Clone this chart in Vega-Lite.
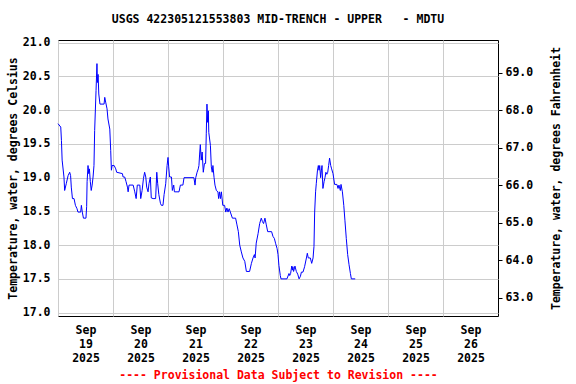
{
  "$schema": "https://vega.github.io/schema/vega-lite/v6.json",
  "width": 440,
  "height": 276,
  "autosize": {"type": "none"},
  "padding": {"left": 58, "top": 40, "right": 78, "bottom": 68},
  "title": {"text": "USGS 422305121553803 MID-TRENCH - UPPER\u00a0\u00a0\u00a0- MDTU", "font": "DejaVu Sans Mono", "fontWeight": "bold", "fontSize": 11.5, "color": "black", "offset": 11, "anchor": "middle"},
  "data": {"values": [
    {"t": "2025-09-19T00:00", "c": 19.80}, {"t": "2025-09-19T01:12", "c": 19.75}, {"t": "2025-09-19T01:30", "c": 19.55}, {"t": "2025-09-19T01:48", "c": 19.26},
    {"t": "2025-09-19T02:36", "c": 19.01}, {"t": "2025-09-19T02:54", "c": 18.81}, {"t": "2025-09-19T03:36", "c": 18.91}, {"t": "2025-09-19T04:24", "c": 19.03},
    {"t": "2025-09-19T05:06", "c": 19.08}, {"t": "2025-09-19T05:30", "c": 19.03}, {"t": "2025-09-19T05:48", "c": 18.86}, {"t": "2025-09-19T06:18", "c": 18.69},
    {"t": "2025-09-19T07:00", "c": 18.69}, {"t": "2025-09-19T07:36", "c": 18.59}, {"t": "2025-09-19T08:18", "c": 18.54}, {"t": "2025-09-19T08:42", "c": 18.49},
    {"t": "2025-09-19T09:54", "c": 18.49}, {"t": "2025-09-19T10:12", "c": 18.59}, {"t": "2025-09-19T10:36", "c": 18.49}, {"t": "2025-09-19T11:06", "c": 18.40},
    {"t": "2025-09-19T12:12", "c": 18.40}, {"t": "2025-09-19T12:30", "c": 18.57}, {"t": "2025-09-19T12:42", "c": 18.94}, {"t": "2025-09-19T13:06", "c": 19.18},
    {"t": "2025-09-19T13:24", "c": 19.06}, {"t": "2025-09-19T13:42", "c": 19.13}, {"t": "2025-09-19T14:06", "c": 18.94}, {"t": "2025-09-19T14:30", "c": 18.81},
    {"t": "2025-09-19T14:54", "c": 18.89}, {"t": "2025-09-19T15:18", "c": 19.01}, {"t": "2025-09-19T15:42", "c": 19.18}, {"t": "2025-09-19T16:00", "c": 19.70},
    {"t": "2025-09-19T16:36", "c": 20.29}, {"t": "2025-09-19T17:00", "c": 20.69}, {"t": "2025-09-19T17:12", "c": 20.41}, {"t": "2025-09-19T17:30", "c": 20.53},
    {"t": "2025-09-19T17:48", "c": 20.24}, {"t": "2025-09-19T18:18", "c": 20.09}, {"t": "2025-09-19T20:06", "c": 20.09}, {"t": "2025-09-19T20:24", "c": 20.19},
    {"t": "2025-09-19T20:48", "c": 20.12}, {"t": "2025-09-19T21:24", "c": 20.02}, {"t": "2025-09-19T21:48", "c": 19.87}, {"t": "2025-09-19T22:36", "c": 19.72},
    {"t": "2025-09-19T23:00", "c": 19.40}, {"t": "2025-09-19T23:18", "c": 19.11}, {"t": "2025-09-19T23:36", "c": 19.18}, {"t": "2025-09-20T00:30", "c": 19.18},
    {"t": "2025-09-20T01:12", "c": 19.13}, {"t": "2025-09-20T01:36", "c": 19.08}, {"t": "2025-09-20T04:06", "c": 19.06}, {"t": "2025-09-20T04:24", "c": 19.01},
    {"t": "2025-09-20T05:06", "c": 19.01}, {"t": "2025-09-20T05:42", "c": 18.94}, {"t": "2025-09-20T06:18", "c": 18.86}, {"t": "2025-09-20T06:36", "c": 18.79},
    {"t": "2025-09-20T07:00", "c": 18.89}, {"t": "2025-09-20T08:48", "c": 18.89}, {"t": "2025-09-20T09:30", "c": 18.79}, {"t": "2025-09-20T10:06", "c": 18.69},
    {"t": "2025-09-20T10:36", "c": 18.89}, {"t": "2025-09-20T11:42", "c": 18.89}, {"t": "2025-09-20T12:06", "c": 18.69}, {"t": "2025-09-20T12:42", "c": 18.81},
    {"t": "2025-09-20T13:18", "c": 18.99}, {"t": "2025-09-20T13:48", "c": 19.08}, {"t": "2025-09-20T14:18", "c": 19.01}, {"t": "2025-09-20T14:42", "c": 18.86},
    {"t": "2025-09-20T15:18", "c": 18.79}, {"t": "2025-09-20T15:42", "c": 18.91}, {"t": "2025-09-20T16:18", "c": 19.01}, {"t": "2025-09-20T16:42", "c": 18.70},
    {"t": "2025-09-20T17:30", "c": 18.69}, {"t": "2025-09-20T18:36", "c": 18.69}, {"t": "2025-09-20T19:06", "c": 19.08}, {"t": "2025-09-20T19:30", "c": 18.91},
    {"t": "2025-09-20T20:00", "c": 18.75}, {"t": "2025-09-20T20:42", "c": 18.62}, {"t": "2025-09-20T21:06", "c": 18.59}, {"t": "2025-09-20T21:48", "c": 18.59},
    {"t": "2025-09-20T22:18", "c": 18.75}, {"t": "2025-09-20T23:00", "c": 18.91}, {"t": "2025-09-20T23:36", "c": 19.18}, {"t": "2025-09-21T00:00", "c": 19.30},
    {"t": "2025-09-21T00:18", "c": 19.16}, {"t": "2025-09-21T00:42", "c": 19.01}, {"t": "2025-09-21T01:30", "c": 19.01}, {"t": "2025-09-21T01:54", "c": 18.81},
    {"t": "2025-09-21T02:30", "c": 18.89}, {"t": "2025-09-21T02:48", "c": 18.79}, {"t": "2025-09-21T04:48", "c": 18.79}, {"t": "2025-09-21T05:24", "c": 18.89},
    {"t": "2025-09-21T06:30", "c": 18.89}, {"t": "2025-09-21T07:00", "c": 19.00}, {"t": "2025-09-21T11:18", "c": 19.00}, {"t": "2025-09-21T11:48", "c": 18.89},
    {"t": "2025-09-21T12:06", "c": 19.00}, {"t": "2025-09-21T12:42", "c": 19.08}, {"t": "2025-09-21T13:12", "c": 19.13}, {"t": "2025-09-21T13:30", "c": 19.18},
    {"t": "2025-09-21T13:48", "c": 19.35}, {"t": "2025-09-21T14:06", "c": 19.49}, {"t": "2025-09-21T14:30", "c": 19.26}, {"t": "2025-09-21T14:54", "c": 19.38},
    {"t": "2025-09-21T15:24", "c": 19.08}, {"t": "2025-09-21T15:54", "c": 19.21}, {"t": "2025-09-21T16:24", "c": 19.21}, {"t": "2025-09-21T16:42", "c": 19.65},
    {"t": "2025-09-21T17:00", "c": 20.09}, {"t": "2025-09-21T17:18", "c": 19.82}, {"t": "2025-09-21T17:36", "c": 19.99}, {"t": "2025-09-21T17:48", "c": 19.67},
    {"t": "2025-09-21T18:30", "c": 19.48}, {"t": "2025-09-21T18:54", "c": 19.16}, {"t": "2025-09-21T19:18", "c": 19.08}, {"t": "2025-09-21T19:36", "c": 19.18},
    {"t": "2025-09-21T20:06", "c": 19.00}, {"t": "2025-09-21T20:30", "c": 18.89}, {"t": "2025-09-21T21:06", "c": 18.81}, {"t": "2025-09-21T21:48", "c": 18.79},
    {"t": "2025-09-21T22:06", "c": 18.69}, {"t": "2025-09-21T22:30", "c": 18.79}, {"t": "2025-09-21T22:54", "c": 18.69}, {"t": "2025-09-21T23:18", "c": 18.79},
    {"t": "2025-09-21T23:54", "c": 18.59}, {"t": "2025-09-22T00:42", "c": 18.59}, {"t": "2025-09-22T01:12", "c": 18.49}, {"t": "2025-09-22T01:42", "c": 18.55},
    {"t": "2025-09-22T02:12", "c": 18.49}, {"t": "2025-09-22T02:42", "c": 18.54}, {"t": "2025-09-22T03:12", "c": 18.49}, {"t": "2025-09-22T04:06", "c": 18.40},
    {"t": "2025-09-22T05:30", "c": 18.40}, {"t": "2025-09-22T06:06", "c": 18.30}, {"t": "2025-09-22T06:42", "c": 18.20}, {"t": "2025-09-22T07:18", "c": 18.00},
    {"t": "2025-09-22T08:00", "c": 17.90}, {"t": "2025-09-22T08:42", "c": 17.81}, {"t": "2025-09-22T09:30", "c": 17.76}, {"t": "2025-09-22T10:12", "c": 17.61},
    {"t": "2025-09-22T11:36", "c": 17.61}, {"t": "2025-09-22T12:24", "c": 17.73}, {"t": "2025-09-22T13:06", "c": 17.81}, {"t": "2025-09-22T13:42", "c": 17.86},
    {"t": "2025-09-22T14:00", "c": 17.81}, {"t": "2025-09-22T14:30", "c": 18.03}, {"t": "2025-09-22T15:18", "c": 18.17}, {"t": "2025-09-22T16:00", "c": 18.32},
    {"t": "2025-09-22T16:42", "c": 18.40}, {"t": "2025-09-22T17:12", "c": 18.35}, {"t": "2025-09-22T17:42", "c": 18.32}, {"t": "2025-09-22T18:18", "c": 18.40},
    {"t": "2025-09-22T18:54", "c": 18.30}, {"t": "2025-09-22T19:30", "c": 18.20}, {"t": "2025-09-22T21:12", "c": 18.20}, {"t": "2025-09-22T21:48", "c": 18.13},
    {"t": "2025-09-22T22:24", "c": 18.10}, {"t": "2025-09-22T23:00", "c": 18.02}, {"t": "2025-09-22T23:36", "c": 17.95}, {"t": "2025-09-23T00:00", "c": 17.86},
    {"t": "2025-09-23T00:24", "c": 17.70}, {"t": "2025-09-23T01:00", "c": 17.55}, {"t": "2025-09-23T01:18", "c": 17.50}, {"t": "2025-09-23T03:54", "c": 17.50},
    {"t": "2025-09-23T04:48", "c": 17.58}, {"t": "2025-09-23T05:06", "c": 17.55}, {"t": "2025-09-23T05:30", "c": 17.58}, {"t": "2025-09-23T06:00", "c": 17.69},
    {"t": "2025-09-23T06:18", "c": 17.63}, {"t": "2025-09-23T06:30", "c": 17.68}, {"t": "2025-09-23T06:48", "c": 17.61}, {"t": "2025-09-23T07:24", "c": 17.69},
    {"t": "2025-09-23T08:00", "c": 17.61}, {"t": "2025-09-23T08:36", "c": 17.57}, {"t": "2025-09-23T09:12", "c": 17.50}, {"t": "2025-09-23T09:48", "c": 17.54},
    {"t": "2025-09-23T10:12", "c": 17.60}, {"t": "2025-09-23T10:54", "c": 17.60}, {"t": "2025-09-23T11:36", "c": 17.68}, {"t": "2025-09-23T12:24", "c": 17.81},
    {"t": "2025-09-23T12:48", "c": 17.88}, {"t": "2025-09-23T13:12", "c": 17.81}, {"t": "2025-09-23T14:06", "c": 17.81}, {"t": "2025-09-23T14:42", "c": 17.73},
    {"t": "2025-09-23T15:18", "c": 17.81}, {"t": "2025-09-23T15:42", "c": 17.98}, {"t": "2025-09-23T16:00", "c": 18.49}, {"t": "2025-09-23T16:24", "c": 18.79},
    {"t": "2025-09-23T16:42", "c": 18.91}, {"t": "2025-09-23T17:12", "c": 19.10}, {"t": "2025-09-23T17:36", "c": 19.18}, {"t": "2025-09-23T17:54", "c": 19.11},
    {"t": "2025-09-23T18:12", "c": 19.18}, {"t": "2025-09-23T18:36", "c": 19.00}, {"t": "2025-09-23T18:54", "c": 19.10}, {"t": "2025-09-23T19:12", "c": 19.18},
    {"t": "2025-09-23T19:36", "c": 18.84}, {"t": "2025-09-23T20:06", "c": 18.94}, {"t": "2025-09-23T20:30", "c": 19.00}, {"t": "2025-09-23T20:54", "c": 19.08},
    {"t": "2025-09-23T21:18", "c": 19.05}, {"t": "2025-09-23T21:42", "c": 19.08}, {"t": "2025-09-23T22:06", "c": 19.18}, {"t": "2025-09-23T22:30", "c": 19.29},
    {"t": "2025-09-23T23:00", "c": 19.18}, {"t": "2025-09-23T23:24", "c": 19.13}, {"t": "2025-09-24T00:00", "c": 19.06}, {"t": "2025-09-24T00:42", "c": 18.90},
    {"t": "2025-09-24T01:42", "c": 18.90}, {"t": "2025-09-24T02:12", "c": 18.84}, {"t": "2025-09-24T02:36", "c": 18.89}, {"t": "2025-09-24T03:12", "c": 18.81},
    {"t": "2025-09-24T03:30", "c": 18.90}, {"t": "2025-09-24T04:06", "c": 18.79}, {"t": "2025-09-24T04:42", "c": 18.59}, {"t": "2025-09-24T05:12", "c": 18.37},
    {"t": "2025-09-24T05:48", "c": 18.10}, {"t": "2025-09-24T06:24", "c": 17.86}, {"t": "2025-09-24T07:00", "c": 17.71}, {"t": "2025-09-24T07:36", "c": 17.58},
    {"t": "2025-09-24T08:00", "c": 17.50}, {"t": "2025-09-24T09:42", "c": 17.50}
  ]},
  "encoding": {
    "x": {
      "field": "t", "type": "temporal",
      "scale": {"domain": [{"year": 2025, "month": 9, "date": 19}, {"year": 2025, "month": 9, "date": 27}]},
      "axis": {
        "values": [{"year": 2025, "month": 9, "date": 19}, {"year": 2025, "month": 9, "date": 20}, {"year": 2025, "month": 9, "date": 21}, {"year": 2025, "month": 9, "date": 22}, {"year": 2025, "month": 9, "date": 23}, {"year": 2025, "month": 9, "date": 24}, {"year": 2025, "month": 9, "date": 25}, {"year": 2025, "month": 9, "date": 26}],
        "labelExpr": "[timeFormat(datum.value, '%b'), timeFormat(datum.value, '%d'), timeFormat(datum.value, '%Y')]",
        "labelOffset": 27.5, "labelAlign": "center", "labelBaseline": "top", "labelPadding": 8, "labelLineHeight": 14,
        "labelFlush": false, "labelOverlap": false, "labelBound": false,
        "ticks": false, "domain": false, "grid": true, "gridColor": "#cccccc",
        "title": "---- Provisional Data Subject to Revision ----", "titleColor": "#ff0000", "titlePadding": 6
      }
    }
  },
  "layer": [
    {
      "mark": {"type": "line", "color": "#0000ff", "strokeWidth": 1},
      "encoding": {
        "y": {
          "field": "c", "type": "quantitative",
          "scale": {"domain": [16.95, 21.04], "nice": false, "zero": false},
          "axis": {"values": [17, 17.5, 18, 18.5, 19, 19.5, 20, 20.5, 21], "format": ".1f", "ticks": false, "domain": false, "grid": true, "gridColor": "#cccccc", "labelPadding": 8, "title": "Temperature, water, degrees Celsius", "titlePadding": 4}
        }
      }
    },
    {
      "mark": {"type": "line", "opacity": 0},
      "encoding": {
        "y": {
          "field": "c", "type": "quantitative",
          "scale": {"domain": [16.95, 21.04], "nice": false, "zero": false},
          "axis": {"orient": "right", "values": [17.2222222, 17.7777778, 18.3333333, 18.8888889, 19.4444444, 20, 20.5555556], "labelExpr": "format(datum.value * 1.8 + 32, '.1f')", "ticks": true, "tickSize": 4, "tickColor": "black", "grid": false, "domain": false, "labelPadding": 3, "title": "Temperature, water, degrees Fahrenheit", "titleAngle": -90, "titlePadding": 29}
        }
      }
    }
  ],
  "resolve": {"scale": {"y": "independent"}},
  "config": {
    "view": {"stroke": "black", "strokeWidth": 1},
    "axis": {"labelFont": "DejaVu Sans Mono", "labelFontWeight": "bold", "labelFontSize": 11.5, "labelColor": "black", "titleFont": "DejaVu Sans Mono", "titleFontWeight": "bold", "titleFontSize": 11.5, "titleColor": "black"}
  }
}
